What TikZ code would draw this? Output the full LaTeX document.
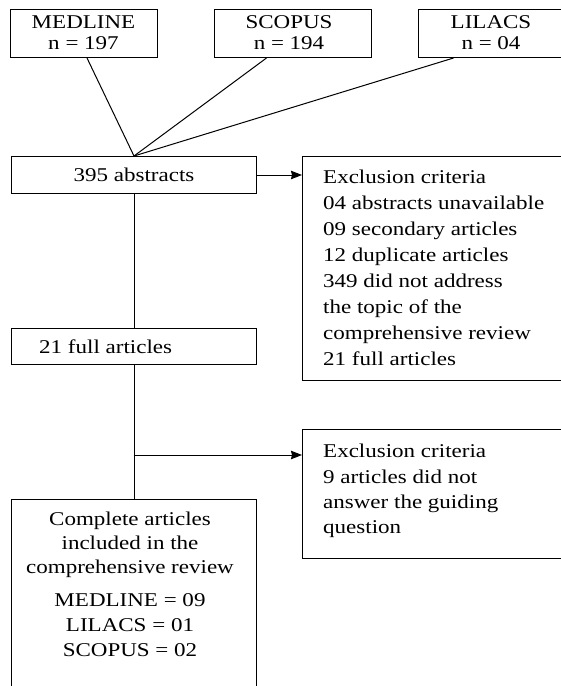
\documentclass[tikz,border=0pt]{standalone}
\usepackage{fontspec}
\setmainfont{Liberation Serif}[FakeStretch=1.18]
\usetikzlibrary{arrows.meta}
\begin{document}
\begin{tikzpicture}[x=1pt,y=-1pt,
  box/.style={draw, line width=1pt, rectangle, inner sep=0pt, anchor=north west},
  txt/.style={inner sep=0pt, font=\fontsize{19.5}{26}\selectfont},
  ctr/.style={txt, anchor=base},
  lft/.style={txt, anchor=base west},
  link/.style={line width=1pt},
  arr/.style={line width=1pt, -{Stealth[length=11pt,width=8.5pt,inset=1pt]}}]
\useasboundingbox (0,0) rectangle (561,686);
\clip (0,0) rectangle (561,686);
\fill[white] (0,0) rectangle (561,686);
% boxes
\node[box, minimum width=147pt, minimum height=48pt] (med) at (10,9) {};
\node[box, minimum width=157pt, minimum height=48pt] (sco) at (214,9) {};
\node[box, minimum width=150pt, minimum height=48pt] (lil) at (418,9) {};
\node[box, minimum width=245pt, minimum height=37pt] (abs) at (11,156) {};
\node[box, minimum width=270pt, minimum height=224pt] (exa) at (302,156) {};
\node[box, minimum width=245pt, minimum height=36pt] (full) at (11,328) {};
\node[box, minimum width=270pt, minimum height=129pt] (exb) at (302,429) {};
\node[box, minimum width=245pt, minimum height=200pt] (comp) at (11,499) {};
% texts
\node[ctr] (m1) at (83.5,28) {MEDLINE};
\node[ctr] (m2) at (83.5,49) {n = 197};
\node[ctr] (s1) at (289,28) {SCOPUS};
\node[ctr] (s2) at (289,49) {n = 194};
\node[ctr] (l1) at (491,28) {LILACS};
\node[ctr] (l2) at (491,49) {n = 04};
\node[ctr] (a1) at (134,181) {395 abstracts};
\node[lft] (e1) at (323,183) {Exclusion criteria};
\node[lft] (e2) at (323,209) {04 abstracts unavailable};
\node[lft] (e3) at (323,235) {09 secondary articles};
\node[lft] (e4) at (323,261) {12 duplicate articles};
\node[lft] (e5) at (323,287) {349 did not address};
\node[lft] (e6) at (323,313) {the topic of the};
\node[lft] (e7) at (323,339) {comprehensive review};
\node[lft] (e8) at (323,365) {21 full articles};
\node[lft] (f1) at (39,353) {21 full articles};
\node[lft] (x1) at (323,457) {Exclusion criteria};
\node[lft] (x2) at (323,483) {9 articles did not};
\node[lft] (x3) at (323,508) {answer the guiding};
\node[lft] (x4) at (323,533) {question};
\node[ctr] (c1) at (130,525) {Complete articles};
\node[ctr] (c2) at (130,549) {included in the};
\node[ctr] (c3) at (130,573) {comprehensive review};
\node[ctr] (c4) at (130,606) {MEDLINE = 09};
\node[ctr] (c5) at (130,631) {LILACS = 01};
\node[ctr] (c6) at (130,656) {SCOPUS = 02};
% connectors
\draw[link] ([xshift=3pt]med.south) -- (abs.north);
\draw[link] ([xshift=-26.5pt]sco.south) -- (abs.north);
\draw[link] ([xshift=-40pt]lil.south) -- (abs.north);
\draw[arr] (abs.east) -- (abs.east -| exa.west);
\draw[link] (abs.south) -- (full.north);
\draw[link] (full.south) -- (comp.north);
\coordinate (br) at (133.5,455);
\draw[arr] (br) -- (br -| exb.west);
\end{tikzpicture}
\end{document}
